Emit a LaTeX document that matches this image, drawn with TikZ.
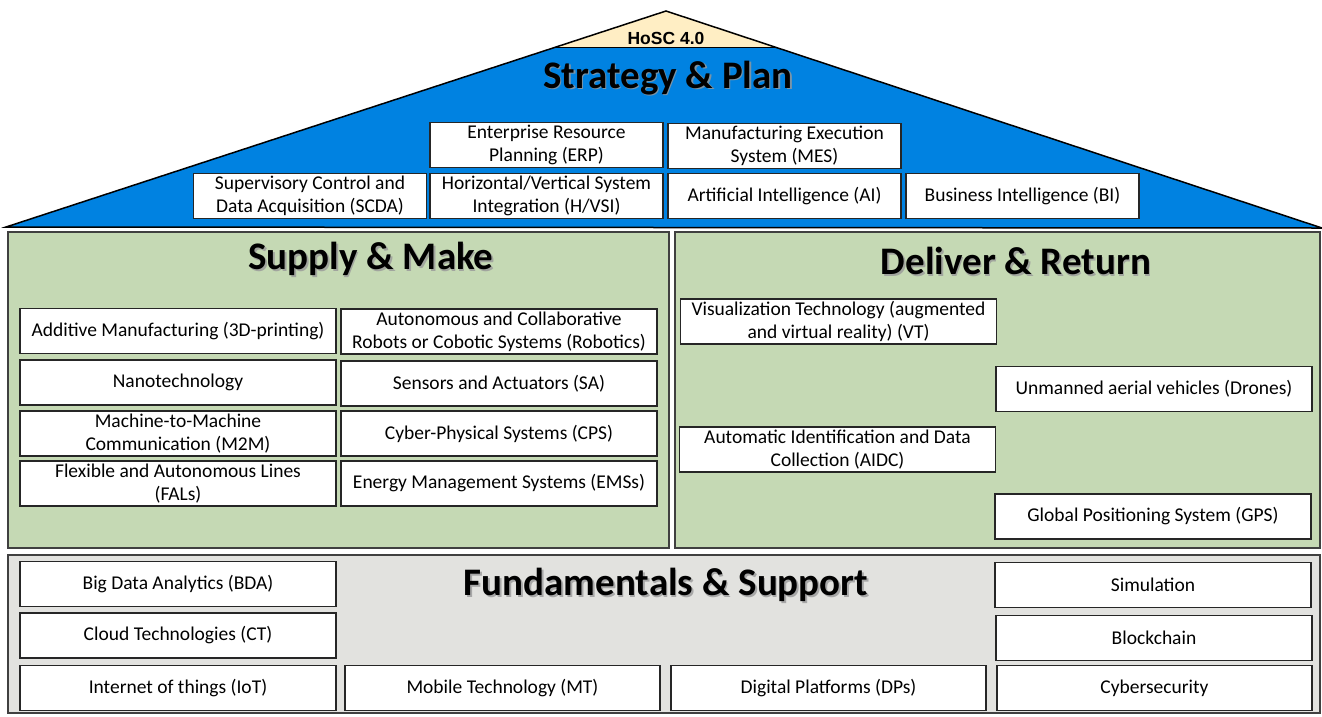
\documentclass[tikz,border=0pt]{standalone}
\usepackage{fontspec}
\setmainfont{Carlito}
\newfontfamily\hoscfont{Liberation Sans}
\usepackage{xcolor}
\usepackage{tikz}
\definecolor{roofblue}{RGB}{0,130,225}
\definecolor{roofcream}{RGB}{255,238,196}
\definecolor{panelgreen}{RGB}{197,217,180}
\definecolor{basegray}{RGB}{226,226,223}
\definecolor{edgegray}{RGB}{64,64,64}

\begin{document}
\begin{tikzpicture}[x=1pt, y=-1pt,
  tech/.style={draw=black!85, fill=white, line width=1.3pt, minimum width=316, minimum height=45, align=center, inner sep=1pt, font=\fontsize{19.5}{23}\selectfont},
  roofbox/.style={tech, minimum width=233},
  title/.style={font=\fontsize{39}{42}\selectfont\bfseries, text=black},
  titleshade/.style={title, text=black!40, opacity=0.8},
  panel/.style={draw=edgegray, line width=1.5pt}]
  \useasboundingbox (0,0) rectangle (1322,716);
  % roof
  \coordinate (eaveL) at (6,227);
  \coordinate (apex) at (666,11);
  \coordinate (eaveR) at (1322,228);
  \fill[roofblue] (eaveL) -- (apex) -- (eaveR) -- cycle;
  \fill[roofcream] (556,47) -- (apex) -- (777,47) -- cycle;
  \draw[black, line width=1pt] (556,47) -- (777,47);
  \draw[black, line width=1.5pt] (eaveL) -- (apex) -- (eaveR) -- cycle;
  \node[font=\hoscfont\bfseries\fontsize{17.5}{19}\selectfont] (hosc) at (666,38) {HoSC 4.0};
  \node[titleshade] (strategyS) at (669.5,79.5) {Strategy \& Plan};
  \node[title] (strategy) at (668,78) {Strategy \& Plan};
  \node[roofbox] (erp) at (546.5,145) {Enterprise Resource\\Planning (ERP)};
  \node[roofbox] (mes) at (784.5,146) {Manufacturing Execution\\System (MES)};
  \node[roofbox] (scda) at (310,196) {Supervisory Control and\\Data Acquisition (SCDA)};
  \node[roofbox] (hvsi) at (546.5,196) {Horizontal/Vertical System\\Integration (H/VSI)};
  \node[roofbox] (ai) at (784.5,196) {Artificial Intelligence (AI)};
  \node[roofbox] (bi) at (1022.5,196) {Business Intelligence (BI)};
  % supply & make
  \draw[panel, fill=panelgreen] (8,232) rectangle (669,548);
  \node[titleshade] (supplyS) at (372.5,260.5) {Supply \& Make};
  \node[title] (supply) at (371,259) {Supply \& Make};
  \node[tech] (additive) at (178,331) {Additive Manufacturing (3D-printing)};
  \node[tech] (cobot) at (499,331.5) {Autonomous and Collaborative\\Robots or Cobotic Systems (Robotics)};
  \node[tech] (nano) at (178,382.5) {Nanotechnology};
  \node[tech] (sa) at (499,383.5) {Sensors and Actuators (SA)};
  \node[tech] (mtm) at (178,433.5) {Machine-to-Machine\\Communication (M2M)};
  \node[tech] (cps) at (499,433.5) {Cyber-Physical Systems (CPS)};
  \node[tech] (fal) at (178,483.5) {Flexible and Autonomous Lines\\(FALs)};
  \node[tech] (ems) at (499,483.5) {Energy Management Systems (EMSs)};
  % deliver & return
  \draw[panel, fill=panelgreen] (675,232) rectangle (1320,548);
  \node[titleshade] (deliverS) at (1017.5,262.5) {Deliver \& Return};
  \node[title] (deliver) at (1016,261) {Deliver \& Return};
  \node[tech] (vt) at (838.5,321.5) {Visualization Technology (augmented\\and virtual reality) (VT)};
  \node[tech] (drone) at (1154,389) {Unmanned aerial vehicles (Drones)};
  \node[tech] (aidc) at (837.5,449.5) {Automatic Identification and Data\\Collection (AIDC)};
  \node[tech] (gps) at (1153,516.5) {Global Positioning System (GPS)};
  % fundamentals & support
  \draw[panel, fill=basegray] (8,555) rectangle (1320,713);
  \node[titleshade] (fundS) at (667.5,586.5) {Fundamentals \& Support};
  \node[title] (fund) at (666,585) {Fundamentals \& Support};
  \node[tech] (bda) at (178,584) {Big Data Analytics (BDA)};
  \node[tech] (ct) at (178,635.5) {Cloud Technologies (CT)};
  \node[tech] (iot) at (178,688) {Internet of things (IoT)};
  \node[tech, minimum width=315] (mt) at (502.5,688) {Mobile Technology (MT)};
  \node[tech, minimum width=315] (dp) at (828.5,688) {Digital Platforms (DPs)};
  \node[tech] (sim) at (1153,585) {Simulation};
  \node[tech] (bc) at (1154,638) {Blockchain};
  \node[tech, minimum width=315] (cyber) at (1154.5,688) {Cybersecurity};
\end{tikzpicture}
\end{document}
